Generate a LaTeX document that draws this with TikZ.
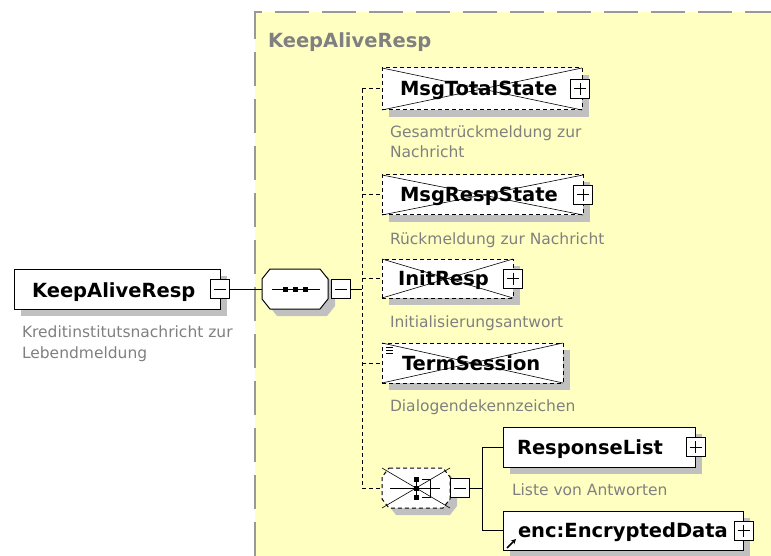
\documentclass[tikz,border=0pt]{standalone}
\usepackage{fontspec}
\setmainfont{DejaVu Sans}
\usetikzlibrary{calc,arrows.meta}
\definecolor{yel}{RGB}{255,255,194}
\definecolor{shd}{RGB}{192,192,192}
\definecolor{bord}{RGB}{153,153,153}
\definecolor{dtxt}{RGB}{128,128,128}
\newcommand\mkbox[6]{%
  \fill[shd] (#2+7,#3+7) rectangle (#4+7,#5+7);
  \node[#6, minimum width={(#4-#2)*1pt}, minimum height={(#5-#3)*1pt}] (#1) at (#2,#3) {};
}
\newcommand\xcross[1]{\draw[xline] (#1.north west) -- (#1.south east) (#1.south west) -- (#1.north east);}
\newcommand\plusbox[3]{%
  \node[pmbox] (#1) at (#2,#3) {};
  \draw[line width=1pt] ($(#1.center)+(-6,0)$) -- ($(#1.center)+(6,0)$) ($(#1.center)+(0,-6)$) -- ($(#1.center)+(0,6)$);
}
\newcommand\minusbox[3]{%
  \node[pmbox] (#1) at (#2,#3) {};
  \draw[line width=1pt] ($(#1.center)+(-6,0)$) -- ($(#1.center)+(6,0)$);
}
% octagon: name x1 y1 x2 y2 style cx cy
\newcommand\octpath[6]{(#1+#5,#2) -- (#3-#5,#2) -- (#3,#2+#6) -- (#3,#4-#6) -- (#3-#5,#4) -- (#1+#5,#4) -- (#1,#4-#6) -- (#1,#2+#6) -- cycle}
\newcommand\octa[8]{%
  \fill[shd] \octpath{#2+7}{#3+7}{#4+7}{#5+7}{#7}{#8};
  \node[anchor=north west, minimum width={(#4-#2)*1pt}, minimum height={(#5-#3)*1pt}] (#1) at (#2,#3) {};
  \draw[#6, fill=white] \octpath{#2}{#3}{#4}{#5}{#7}{#8};
}
\begin{document}
\begin{tikzpicture}[x=1pt,y=-1pt,
  every node/.style={inner sep=0pt, outer sep=0pt},
  elbox/.style={draw=black, line width=1pt, fill=white, rectangle, anchor=north west},
  optbox/.style={elbox, dash pattern=on 4pt off 3pt},
  solidline/.style={draw=black, line width=1pt},
  dashline/.style={draw=black, line width=1pt, dash pattern=on 4pt off 3pt},
  btxt/.style={anchor=base west, font=\fontsize{19.5}{23}\selectfont\bfseries},
  dtx/.style={anchor=base west, text=dtxt, font=\fontsize{15.5}{20}\selectfont},
  pmbox/.style={draw=black, line width=1pt, fill=white, minimum size=19pt},
  xline/.style={draw=black, line width=0.6pt},
  conn/.style={draw=black, line width=1pt},
  dconn/.style={conn, dash pattern=on 4pt off 3pt},
]
\useasboundingbox (0,0) rectangle (771,556);
\fill[white] (0,0) rectangle (771,556);
% group background
\fill[yel] (255,12) rectangle (771,556);
\draw[bord, line width=2pt, dash pattern=on 34pt off 13pt] (255,556) -- (255,12) -- (771,12);
\node[btxt, text=dtxt] (title) at (268,48) {KeepAliveResp};

% root element
\mkbox{root}{14}{269}{220}{309}{elbox}
\node[btxt] (roott) at (32,297) {KeepAliveResp};
\minusbox{rootm}{219.5}{289}
\node[dtx] (rootd1) at (22,337) {Kreditinstitutsnachricht zur};
\node[dtx] (rootd2) at (22,358) {Lebendmeldung};

% sequence compositor
\octa{seq}{262}{269}{328}{309}{solidline}{8}{10}
\draw[line width=1pt] (272,289) -- (320,289);
\foreach \q in {285,295,305} \fill (\q-2.5,286.5) rectangle (\q+2.5,291.5);
\minusbox{seqm}{340.5}{289}
\draw[conn] (rootm.east) -- (seq.west);

% children
\mkbox{mts}{382}{68}{582}{110}{optbox}
\xcross{mts}
\node[btxt] (mtst) at (400,96) {MsgTotalState};
\plusbox{mtsp}{580}{89}
\node[dtx] (mtsd1) at (390,138) {Gesamtrückmeldung zur};
\node[dtx] (mtsd2) at (390,158) {Nachricht};

\mkbox{mrs}{382}{175}{583}{215}{optbox}
\xcross{mrs}
\node[btxt] (mrst) at (400,202) {MsgRespState};
\plusbox{mrsp}{583}{195}
\node[dtx] (mrsd) at (390,244) {Rückmeldung zur Nachricht};

\mkbox{ir}{382}{259}{513}{298}{optbox}
\xcross{ir}
\node[btxt] (irt) at (398,285) {InitResp};
\plusbox{irp}{513}{278.5}
\node[dtx] (ird) at (390,327) {Initialisierungsantwort};

\mkbox{ts}{382}{343}{563}{383}{optbox}
\xcross{ts}
\node[btxt] (tst) at (402,370) {TermSession};
\draw[line width=0.8pt] (386,347) -- (393,347) (386,350) -- (393,350) (386,353) -- (393,353);
\node[dtx] (tsd) at (390,411) {Dialogendekennzeichen};

% choice compositor
\octa{ch}{382}{468}{450}{508}{dashline}{7}{9}
\xcross{ch}
\draw[line width=1pt] (390,488) -- (440,488);
\draw[line width=1pt] (416,479) -- (416,497);
\foreach \q in {479,488,497} \fill (413.5,\q-2.5) rectangle (418.5,\q+2.5);
\draw[line width=1pt] (422,479) -- (430,479) -- (430,497) -- (422,497);
\minusbox{chm}{459.5}{488}

% sequence connectors
\coordinate (j1) at (362,89);
\coordinate (j2) at (362,195);
\coordinate (j3) at (362,278.5);
\coordinate (hub) at (362,289);
\coordinate (j4) at (362,363);
\coordinate (j5) at (362,488);
\draw[conn] (seqm.east) -- (hub);
\draw[dconn] (j1) -- (j5);
\draw[dconn] (j1) -- (mts.west);
\draw[dconn] (j2) -- (mrs.west);
\draw[dconn] (j3) -- (ir.west);
\draw[dconn] (j4) -- (ts.west);
\draw[dconn] (j5) -- (ch.west);

% choice children
\mkbox{rl}{503}{427}{695}{467}{elbox}
\node[btxt] (rlt) at (517,454) {ResponseList};
\plusbox{rlp}{695.5}{447}
\node[dtx] (rld) at (512,495) {Liste von Antworten};

\mkbox{enc}{503}{511}{743}{550}{elbox}
\node[btxt] (enct) at (518,537) {enc:EncryptedData};
\plusbox{encp}{743.5}{530.5}
\draw[line width=1.5pt, -{Stealth[length=5pt,width=5pt]}] (507,548) -- (516,539);

\coordinate (cj) at (482,488);
\draw[conn] (chm.east) -- (cj);
\draw[conn] (cj) |- (rl.west);
\draw[conn] (cj) |- (enc.west);
\end{tikzpicture}
\end{document}
